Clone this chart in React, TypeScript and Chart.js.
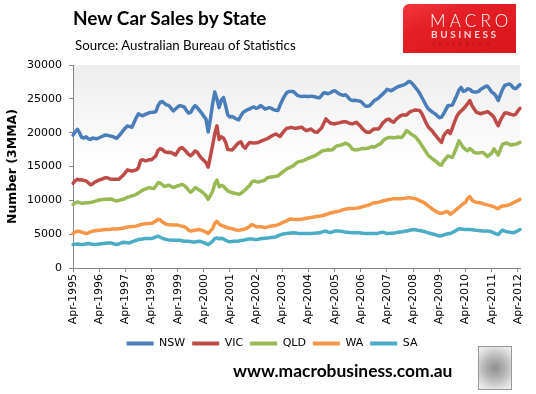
import React, { useEffect, useRef } from "react";
import { Chart, registerables } from "chart.js";

Chart.register(...registerables);

// Monthly categories, Apr-1995 .. May-2012
const MONTH_NAMES = ["Jan", "Feb", "Mar", "Apr", "May", "Jun", "Jul", "Aug", "Sep", "Oct", "Nov", "Dec"];
const categories: string[] = Array.from({ length: 206 }, (_, i) => {
  const mi = 3 + i;
  return `${MONTH_NAMES[mi % 12]}-${1995 + Math.floor(mi / 12)}`;
});

const seriesNames = ["NSW", "VIC", "QLD", "WA", "SA"];
const seriesColors = ["#4A7EBB", "#BE4B48", "#98B954", "#F79646", "#4BACC6"];

const nsw = [
  19650, 20100, 20500, 20000, 19300, 19200, 19400, 19100, 19000, 19200, 19150, 19100,
  19250, 19400, 19550, 19650, 19600, 19500, 19450, 19300, 19150, 19500, 19900, 20300,
  20700, 21000, 20900, 20800, 21500, 22200, 22800, 22600, 22500, 22700, 22800, 22950,
  23000, 23000, 23100, 24000, 24500, 24600, 24300, 24100, 24000, 23600, 23200, 23500,
  23800, 24000, 23900, 23800, 23300, 22900, 23000, 23600, 24000, 23700, 23300, 22900,
  22400, 22000, 20100, 22000, 24200, 26000, 25000, 23700, 24800, 25200, 24000, 22600,
  22300, 22400, 22200, 22000, 21900, 22500, 23000, 23200, 23400, 23500, 23700, 23800,
  23600, 23700, 24000, 23800, 23500, 23600, 23700, 23600, 23400, 23300, 23260, 24100,
  24800, 25400, 25900, 26100, 26100, 26100, 25800, 25500, 25400, 25350, 25400, 25350,
  25350, 25400, 25350, 25300, 25200, 25150, 25500, 25900, 25850, 25750, 25900, 26100,
  26200, 26000, 25750, 25600, 25500, 25600, 25300, 24900, 24750, 24800, 24750, 24700,
  24600, 24300, 23950, 23900, 24000, 24300, 24700, 24900, 25100, 25400, 25700, 26000,
  26400, 26300, 26200, 26400, 26600, 26800, 26900, 27000, 27100, 27300, 27570, 27450,
  27100, 26700, 26300, 25800, 25200, 24600, 24000, 23500, 23260, 23000, 22800, 22500,
  22200, 22300, 22800, 23400, 24000, 24000, 24100, 24800, 25500, 26300, 26700, 26100,
  26200, 26500, 26400, 26100, 26000, 26000, 26100, 26400, 26600, 26800, 26900, 26500,
  26000, 25800, 25400, 24750, 25600, 26400, 27000, 27100, 27200, 27000, 26600, 26500,
  26800, 27100,
];

const vic = [
  12520, 12900, 13100, 13000, 13050, 12950, 12870, 12600, 12300, 12400, 12700, 12850,
  13000, 13100, 13250, 13360, 13300, 13150, 13100, 13100, 13100, 13100, 13400, 13700,
  14100, 14500, 14400, 14350, 14400, 14500, 14800, 15900, 16000, 15850, 15900, 16000,
  16000, 16300, 16580, 17400, 17650, 17500, 17200, 17080, 17100, 17080, 16900, 16700,
  17200, 17670, 17800, 17500, 17180, 16800, 16600, 16900, 17300, 17100, 16600, 16200,
  15900, 15600, 14900, 16500, 18100, 19800, 21000, 19000, 19400, 19200, 18600, 17500,
  17470, 17450, 17800, 18200, 18500, 18660, 18000, 17700, 18200, 18560, 18500, 18460,
  18500, 18560, 18700, 18850, 18960, 19100, 19300, 19500, 19650, 19800, 19600, 19450,
  19900, 20300, 20640, 20700, 20790, 20700, 20640, 20700, 20750, 20790, 20500, 20300,
  20400, 20540, 20300, 20100, 20050, 20400, 20700, 21400, 22030, 21700, 21430, 21350,
  21290, 21400, 21450, 21530, 21600, 21630, 21500, 21350, 21300, 21400, 21530, 21200,
  20900, 20500, 20200, 20050, 20050, 20300, 20540, 20540, 20540, 20900, 21400, 21700,
  21950, 22000, 21700, 21530, 21900, 22200, 22450, 22620, 22600, 22620, 22950, 23150,
  23250, 23360, 23300, 23260, 22800, 22100, 21400, 20800, 20500, 20150, 19700, 19300,
  18900, 18560, 19550, 20000, 20300, 19850, 20700, 21600, 22400, 22900, 23200, 23510,
  23900, 24300, 24750, 24000, 23500, 23020, 22900, 22800, 22900, 23000, 23120, 22900,
  22650, 22300, 21600, 21040, 21800, 22400, 22900, 22900, 22800, 22700, 22600, 22700,
  23200, 23610,
];

const qld = [
  9400, 9600, 9750, 9650, 9550, 9600, 9650, 9650, 9700, 9750, 9850, 9950,
  10050, 10100, 10150, 10150, 10150, 10200, 10150, 10000, 9900, 10000, 10100, 10150,
  10300, 10450, 10540, 10650, 10740, 10900, 11100, 11300, 11500, 11650, 11750, 11880,
  11800, 11730, 12100, 12620, 12550, 12300, 12030, 12150, 12230, 12050, 11900, 12000,
  12150, 12250, 12370, 12200, 11900, 11500, 11200, 11500, 11880, 11700, 11500, 11300,
  11000, 10700, 10150, 10700, 11300, 12400, 13000, 12000, 12200, 12100, 11700, 11400,
  11240, 11150, 11050, 11000, 10900, 11000, 11300, 11550, 11900, 12200, 12700, 12870,
  12750, 12720, 12800, 12870, 13000, 13300, 13400, 13450, 13500, 13550, 13610, 13900,
  14150, 14400, 14650, 14800, 14950, 15100, 15400, 15650, 15750, 15800, 15900, 16100,
  16200, 16350, 16480, 16600, 16800, 17000, 17250, 17350, 17400, 17470, 17450, 17470,
  17800, 18070, 18100, 18170, 18300, 18450, 18300, 18070, 17600, 17470, 17450, 17500,
  17600, 17670, 17650, 17700, 17800, 17950, 17850, 18000, 18200, 18350, 18700, 19050,
  19200, 19300, 19300, 19250, 19300, 19350, 19300, 19350, 19800, 20300, 20100, 19800,
  19600, 19400, 19000, 18600, 18100, 17600, 17100, 16600, 16340, 16100, 15850, 15600,
  15300, 15200, 15800, 16200, 16580, 16450, 16340, 17100, 17900, 18800, 18300, 17820,
  17500, 17350, 17650, 17400, 17080, 17000, 16980, 17050, 17080, 16800, 16480, 16700,
  16950, 17600, 17200, 16700, 17500, 18300, 18400, 18460, 18300, 18170, 18250, 18300,
  18400, 18560,
];

const wa = [
  5100, 5300, 5450, 5400, 5300, 5200, 5100, 5200, 5350, 5450, 5500, 5550,
  5590, 5620, 5660, 5690, 5700, 5720, 5750, 5760, 5780, 5790, 5850, 5920,
  6000, 6050, 6090, 6120, 6150, 6190, 6300, 6420, 6480, 6550, 6580, 6580,
  6600, 6750, 6930, 7200, 7100, 6800, 6600, 6450, 6400, 6350, 6340, 6340,
  6340, 6260, 6190, 6100, 5900, 5600, 5450, 5520, 5590, 5650, 5690, 5550,
  5450, 5300, 5100, 5500, 5800, 6600, 6900, 6500, 6300, 6190, 6050, 5950,
  5870, 5800, 5700, 5620, 5590, 5640, 5690, 5800, 5920, 6150, 6400, 6300,
  6100, 6090, 6090, 6050, 5960, 6050, 6150, 6200, 6250, 6290, 6400, 6530,
  6700, 6850, 6930, 7200, 7250, 7200, 7180, 7180, 7180, 7230, 7280, 7350,
  7400, 7450, 7520, 7570, 7620, 7670, 7730, 7800, 7900, 8020, 8120, 8200,
  8270, 8350, 8400, 8500, 8620, 8700, 8760, 8810, 8810, 8810, 8850, 8900,
  8980, 9080, 9160, 9250, 9350, 9500, 9650, 9650, 9700, 9800, 9900, 9980,
  10050, 10130, 10180, 10220, 10250, 10250, 10250, 10250, 10300, 10350, 10400, 10350,
  10300, 10250, 10100, 9950, 9800, 9650, 9400, 9150, 8910, 8650, 8450, 8250,
  8100, 8080, 8170, 8350, 8300, 7950, 8150, 8400, 8700, 8950, 9250, 9500,
  9700, 10300, 10550, 10050, 9800, 9720, 9680, 9620, 9500, 9400, 9330, 9250,
  9150, 9060, 8900, 8760, 9050, 9160, 9200, 9250, 9350, 9500, 9650, 9800,
  9950, 10150,
];

const sa = [
  3465, 3500, 3550, 3500, 3470, 3500, 3560, 3610, 3560, 3500, 3470, 3500,
  3560, 3600, 3620, 3660, 3700, 3710, 3650, 3550, 3470, 3550, 3680, 3800,
  3780, 3720, 3710, 3850, 3960, 4080, 4200, 4260, 4300, 4350, 4360, 4360,
  4360, 4450, 4600, 4700, 4550, 4400, 4280, 4200, 4150, 4120, 4110, 4110,
  4110, 4100, 4020, 3960, 3960, 3960, 3900, 3830, 3850, 3920, 3960, 3850,
  3740, 3620, 3465, 3700, 3950, 4350, 4450, 4320, 4400, 4300, 4100, 3950,
  3860, 3900, 3940, 3960, 4000, 4060, 4110, 4170, 4240, 4300, 4270, 4230,
  4210, 4260, 4320, 4360, 4400, 4430, 4455, 4500, 4550, 4600, 4750, 4900,
  5000, 5050, 5100, 5150, 5180, 5200, 5160, 5120, 5100, 5100, 5100, 5100,
  5100, 5100, 5120, 5150, 5180, 5200, 5300, 5400, 5450, 5300, 5250, 5350,
  5450, 5450, 5450, 5420, 5350, 5300, 5270, 5230, 5200, 5200, 5200, 5200,
  5170, 5130, 5100, 5100, 5100, 5100, 5100, 5100, 5150, 5230, 5300, 5200,
  5100, 5120, 5150, 5180, 5220, 5270, 5320, 5350, 5420, 5480, 5540, 5620,
  5690, 5650, 5590, 5540, 5480, 5400, 5300, 5200, 5100, 5020, 4950, 4830,
  4720, 4750, 4900, 5000, 5050, 5100, 5250, 5400, 5600, 5800, 5780, 5720,
  5690, 5690, 5690, 5650, 5600, 5570, 5550, 5520, 5480, 5450, 5450, 5430,
  5330, 5200, 5050, 4950, 5300, 5590, 5450, 5350, 5300, 5250, 5200, 5350,
  5500, 5690,
];

const seriesValues = [nsw, vic, qld, wa, sa];

const yMin = 0;
const yMax = 30000;
const yStep = 5000;

const W = 536;
const H = 394;

const plotBackground = {
  id: "plotBackground",
  beforeDraw(chart: any) {
    const { ctx, chartArea: a } = chart;
    if (!a) return;
    const g = ctx.createLinearGradient(0, a.top, 0, a.bottom);
    g.addColorStop(0, "#EDEDED");
    g.addColorStop(0.5, "#FFFFFF");
    g.addColorStop(1, "#FFFFFF");
    ctx.save();
    ctx.fillStyle = g;
    ctx.fillRect(a.left, a.top, a.right - a.left, a.bottom - a.top);
    ctx.restore();
  },
};

export default function App() {
  const canvasRef = useRef<HTMLCanvasElement | null>(null);

  useEffect(() => {
    document.body.style.margin = "0";
    const canvas = canvasRef.current;
    if (!canvas) return;
    Chart.defaults.font.family = "'DejaVu Sans', Verdana, sans-serif";
    Chart.defaults.font.size = 11;
    Chart.defaults.color = "#000";

    const chart = new Chart(canvas, {
      type: "line",
      data: {
        labels: categories,
        datasets: seriesNames.map((name, i) => ({
          label: name,
          data: seriesValues[i],
          borderColor: seriesColors[i],
          backgroundColor: seriesColors[i],
          borderWidth: 3.5,
          pointRadius: 0,
          tension: 0,
          borderJoinStyle: "round" as const,
          borderCapStyle: "round" as const,
          fill: false,
        })),
      },
      options: {
        animation: false,
        responsive: false,
        devicePixelRatio: 1,
        events: [],
        layout: { padding: { top: 65, right: 16, left: 24, bottom: 35 } },
        plugins: {
          tooltip: { enabled: false },
          legend: {
            position: "bottom",
            labels: {
              boxWidth: 27,
              boxHeight: 4,
              padding: 7,
              color: "#000",
              font: { size: 11 },
              generateLabels: (c: any) =>
                c.data.datasets.map((ds: any, i: number) => ({
                  text: ds.label,
                  fillStyle: ds.borderColor,
                  strokeStyle: ds.borderColor,
                  lineWidth: 0,
                  hidden: false,
                  fontColor: "#000",
                  datasetIndex: i,
                })),
            },
          },
        },
        scales: {
          x: {
            type: "category",
            grid: {
              display: true,
              drawOnChartArea: false,
              drawTicks: true,
              tickLength: 4,
              color: "#868686",
            },
            border: { display: true, color: "#868686", width: 1 },
            ticks: {
              autoSkip: false,
              maxRotation: 90,
              minRotation: 90,
              padding: 2,
              color: "#000",
              font: { size: 11 },
              callback: (_v: any, index: number) =>
                categories[index].startsWith("Apr") ? categories[index] : null,
            },
            afterFit: (s: any) => {
              s.height = 63;
            },
          },
          y: {
            min: yMin,
            max: yMax,
            ticks: {
              stepSize: yStep,
              padding: 7,
              color: "#000",
              font: { size: 11 },
              callback: (v: any) => String(v),
            },
            grid: {
              drawOnChartArea: false,
              drawTicks: true,
              tickLength: 4,
              color: "#868686",
            },
            border: { display: true, color: "#868686", width: 1 },
            title: {
              display: true,
              text: "Number (3MMA)",
              color: "#000",
              font: { size: 12.5, weight: "bold" },
              padding: { top: -19, bottom: 0 },
            },
            afterFit: (s: any) => {
              s.width = 49;
            },
          },
        },
      },
      plugins: [plotBackground],
    });
    return () => chart.destroy();
  }, []);

  return (
    <div style={{ position: "relative", width: W, height: H, background: "#fff", overflow: "hidden" }}>
      <canvas ref={canvasRef} width={W} height={H} style={{ position: "absolute", left: 0, top: 0, width: W, height: H }} />
      <div
        style={{
          position: "absolute",
          left: 73,
          top: 8,
          fontFamily: "Lato, 'Open Sans', sans-serif",
          fontWeight: 700,
          fontSize: 19,
          lineHeight: "19px",
          color: "#000",
          whiteSpace: "nowrap",
        }}
      >
        New Car Sales by State
      </div>
      <div
        style={{
          position: "absolute",
          left: 75,
          top: 39,
          fontFamily: "Lato, 'Open Sans', sans-serif",
          fontSize: 13.3,
          lineHeight: "13.3px",
          color: "#000",
          whiteSpace: "nowrap",
        }}
      >
        Source: Australian Bureau of Statistics
      </div>
      <div
        style={{
          position: "absolute",
          left: 403,
          top: 4,
          width: 113,
          height: 49,
          background: "linear-gradient(160deg, #F03A3E 0%, #E41E25 35%, #D8161C 100%)",
          borderTopLeftRadius: 6,
          overflow: "hidden",
        }}
      >
        <div
          style={{
            position: "absolute",
            left: 27,
            top: 8,
            fontFamily: "Lato, 'DejaVu Sans', sans-serif",
            fontWeight: 300,
            fontSize: 17,
            lineHeight: "17px",
            letterSpacing: 4.2,
            color: "#FFFFFF",
            whiteSpace: "nowrap",
          }}
        >
          MACRO
        </div>
        <div
          style={{
            position: "absolute",
            left: 28,
            top: 25,
            fontFamily: "Lato, 'DejaVu Sans', sans-serif",
            fontWeight: 700,
            fontSize: 10,
            lineHeight: "11px",
            letterSpacing: 2.6,
            color: "#F6D4D4",
            whiteSpace: "nowrap",
          }}
        >
          BUSINESS
        </div>
        <div
          style={{
            position: "absolute",
            left: 29,
            top: 38,
            fontFamily: "'DejaVu Sans', sans-serif",
            fontSize: 5,
            lineHeight: "5px",
            letterSpacing: 3.4,
            color: "#B51216",
            whiteSpace: "nowrap",
          }}
        >
          SUPERBLOG
        </div>
      </div>
      <div
        style={{
          position: "absolute",
          left: 233,
          top: 362,
          fontFamily: "Lato, 'Open Sans', sans-serif",
          fontWeight: 700,
          fontSize: 17.4,
          lineHeight: "17.4px",
          color: "#000",
          whiteSpace: "nowrap",
        }}
      >
        www.macrobusiness.com.au
      </div>
      <div
        style={{
          position: "absolute",
          left: 478,
          top: 346,
          width: 32,
          height: 42,
          border: "1px solid #9A9A9A",
          background: "radial-gradient(circle at 50% 50%, #8E8E8E 0%, #B4B4B4 40%, #E2E2E2 80%, #F2F2F2 100%)",
        }}
      />
    </div>
  );
}
